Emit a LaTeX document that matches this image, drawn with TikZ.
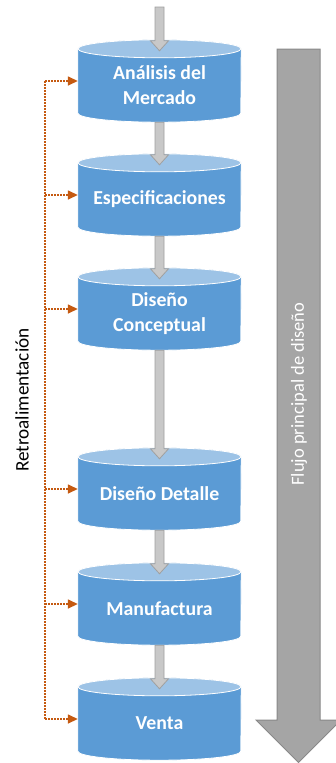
\documentclass[tikz,border=0pt]{standalone}
\usepackage{fontspec}
\setmainfont{Carlito}
\usetikzlibrary{arrows.meta,calc}
\pgfdeclarelayer{bg}
\pgfsetlayers{bg,main}
\definecolor{drumbody}{HTML}{5B9BD5}
\definecolor{drumtop}{HTML}{9DC3E6}
\definecolor{linkfill}{HTML}{C8C8C8}
\definecolor{linkline}{HTML}{A0A0A0}
\definecolor{mainfill}{HTML}{A5A5A5}
\definecolor{mainline}{HTML}{898989}
\definecolor{fbcolor}{HTML}{C55A11}
\tikzset{
  drumnode/.style={rectangle, inner sep=0pt, minimum width=163pt,
    text=white, align=center, font=\fontsize{19.8}{25}\selectfont\bfseries},
  blockarrow/.style={fill=linkfill, draw=linkline, line width=0.8pt,
    to path={let \p1=(\tikztostart), \p2=(\tikztotarget) in
      (\x1-4.5pt,\y1) -- (\x1-4.5pt,\y2+10pt) -- (\x1-9pt,\y2+10pt) -- (\x1,\y2)
      -- (\x1+9pt,\y2+10pt) -- (\x1+4.5pt,\y2+10pt) -- (\x1+4.5pt,\y1) -- cycle}},
  fbline/.style={draw=fbcolor, line width=1.5pt, dash pattern=on 1.5pt off 1.5pt},
  fbarrow/.style={fbline, -{Triangle[length=10pt,width=9pt]}},
}
% drum: name, top y, bottom y, label
\newcommand\drum[4]{%
  \node[drumnode, minimum height={#3-#2-9}] (#1) at (159.5,{-(#2+9+#3)/2}) {#4};
  \begin{pgfonlayer}{bg}
    \path[fill=drumbody, draw=white, line width=0.8pt]
      (#1.north west) -- ([yshift=9pt]#1.south west)
      arc[start angle=180, end angle=360, x radius=81.5pt, y radius=9pt]
      -- (#1.north east)
      arc[start angle=0, end angle=180, x radius=81.5pt, y radius=9pt] -- cycle;
    \path[fill=drumtop, draw=white, line width=0.8pt]
      (#1.north) ellipse[x radius=81.5pt, y radius=9pt];
  \end{pgfonlayer}
}
\begin{document}
\begin{tikzpicture}[x=1pt,y=1pt]
\useasboundingbox (0,0) rectangle (335,-763);
\begin{pgfonlayer}{bg}
  \fill[white] (0,0) rectangle (335,-763);
\end{pgfonlayer}

% main design flow arrow
\path[fill=mainfill, draw=mainline, line width=1pt]
  (277,-49) -- (277,-720) -- (256,-720) -- (298.5,-762.5) -- (341,-720)
  -- (320,-720) -- (320,-49) -- cycle;
\node[rotate=90, text=white, font=\fontsize{18.5}{22}\selectfont] (flowlabel)
  at (299,-394) {Flujo principal de diseño};

% stages
\drum{m1}{40}{122}{Análisis del\\Mercado}
\drum{m2}{154}{236}{Especificaciones}
\drum{m3}{268}{350}{Diseño\\Conceptual}
\drum{m4}{448}{530}{Diseño Detalle}
\drum{m5}{563}{645}{Manufactura}
\drum{m6}{678}{760}{Venta}

% links between stages
\coordinate (entry) at (159.5,-7);
\draw[blockarrow] (entry) to ([yshift=-2pt]m1.north);
\draw[blockarrow] (m1.south) to ([yshift=-2pt]m2.north);
\draw[blockarrow] (m2.south) to ([yshift=-2pt]m3.north);
\draw[blockarrow] (m3.south) to ([yshift=-2pt]m4.north);
\draw[blockarrow] (m4.south) to ([yshift=-2pt]m5.north);
\draw[blockarrow] (m5.south) to ([yshift=-2pt]m6.north);

% feedback
\coordinate (spine) at (45,0);
\foreach \i in {1,...,6} {
  \path ([yshift=4.5pt]m\i.west) coordinate (f\i);
  \draw[fbarrow] (f\i -| spine) -- (f\i);
}
\draw[fbline] (f1 -| spine) -- (f6 -| spine);
\node[rotate=90, font=\fontsize{19.2}{22}\selectfont] (fblabel) at (22,-400) {Retroalimentación};
\end{tikzpicture}
\end{document}
